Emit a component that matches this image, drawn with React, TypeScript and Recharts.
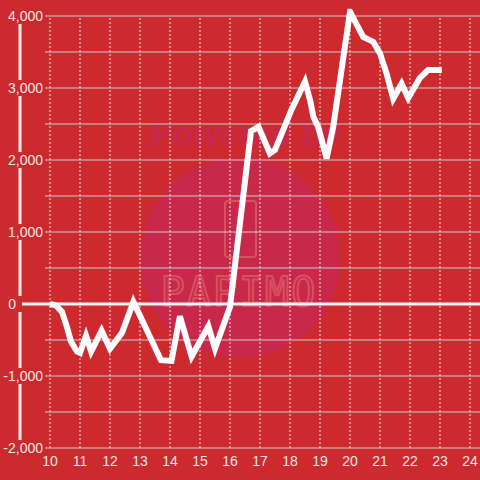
import { LineChart, Line, XAxis, YAxis, ReferenceLine } from 'recharts';

// hour of day -> running difference
const hours = [
  10.0, 10.2, 10.4, 10.55, 10.7, 10.9, 11.0, 11.2, 11.37, 11.72, 12.0, 12.4, 12.78,
  13.7, 14.05, 14.33, 14.72, 15.28, 15.5, 16.0, 16.7, 16.95, 17.33, 17.5, 18.05,
  18.5, 18.67, 18.78, 18.94, 19.22, 19.44, 20.0, 20.44, 20.78, 21.0, 21.22, 21.44,
  21.72, 21.94, 22.33, 22.6, 23.06,
];
const diff = [
  0, -20, -110, -300, -520, -660, -680, -440, -660, -370, -620, -400, 30,
  -780, -790, -170, -730, -310, -620, -40, 2400, 2460, 2090, 2140, 2700,
  3090, 2830, 2600, 2460, 2020, 2460, 4060, 3710, 3640, 3480, 3200, 2850,
  3060, 2860, 3140, 3250, 3250,
];

const xTicks = [10, 11, 12, 13, 14, 15, 16, 17, 18, 19, 20, 21, 22, 23, 24];
const yTicks = [-2000, -1500, -1000, -500, 0, 500, 1000, 1500, 2000, 2500, 3000, 3500, 4000];

const BG = '#cc2a2f';
const TEXT = '#f2e4e4';
const GRID = '#cdcdcd';
const FONT = '"Liberation Sans", Arial, sans-serif';

const data = hours.map((h, i) => ({ h, v: diff[i] }));

function YTick({ y, payload }: any) {
  const v = payload.value;
  if (v % 1000 !== 0) return null;
  const isZero = v === 0;
  return (
    <g>
      <rect x={isZero ? 6 : 1} y={y - 8} width={isZero ? 16 : 43} height={16} fill={BG} />
      <text
        x={isZero ? 16 : 43}
        y={y}
        dy="0.36em"
        textAnchor="end"
        fill={TEXT}
        fontSize={14}
        fontFamily={FONT}
      >
        {v.toLocaleString('en-US')}
      </text>
    </g>
  );
}

function Watermark() {
  return (
    <svg width={480} height={480} style={{ position: 'absolute', left: 0, top: 0 }}>
      <text x={150} y={146} fontSize={34} fontWeight="bold" fontStyle="italic" fill="#c8284a" fontFamily={FONT}>
        Powered by
      </text>
      <circle cx={240} cy={258} r={100} fill="#c8284a" />
      <rect x={225} y={201} width={31} height={56} rx={3} fill="none" stroke="#d7525f" strokeWidth={2} />
      <text x={239} y={306} textAnchor="middle" fontSize={40} fill="none" stroke="#d7525f" strokeWidth={2} fontFamily='"DejaVu Sans Mono", monospace' letterSpacing={2}>
        PAPIMO
      </text>
    </svg>
  );
}

export default function App() {
  return (
    <div style={{ position: 'absolute', left: 0, top: 0, width: 480, height: 480, background: BG }}>
      <Watermark />
      <div style={{ position: 'absolute', left: 0, top: 0 }}>
        <LineChart width={480} height={480} data={data} margin={{ top: 8.8, right: 0, bottom: 0, left: 0 }}>
          {yTicks.map((t) => (
            <ReferenceLine
              key={`h${t}`}
              segment={[{ x: 9.8333, y: t }, { x: 24.3333, y: t }]}
              stroke={GRID}
              strokeWidth={1}
            />
          ))}
          {xTicks.map((t) => (
            <ReferenceLine
              key={`v${t}`}
              segment={[{ x: t, y: -2000 }, { x: t, y: 4000 }]}
              stroke="#e6e6e6"
              strokeDasharray="2 2"
              strokeWidth={1}
            />
          ))}
          <ReferenceLine y={0} stroke="#f7f7f7" strokeWidth={3} />
          <XAxis
            dataKey="h"
            type="number"
            domain={[9, 24.3333]}
            ticks={xTicks}
            interval={0}
            height={32}
            axisLine={false}
            tickLine={false}
            tick={{ fill: TEXT, fontSize: 14, fontFamily: FONT }}
            allowDataOverflow
          />
          <YAxis
            type="number"
            domain={[-2000, 4100]}
            ticks={yTicks}
            interval={0}
            width={20}
            axisLine={{ stroke: '#f4f4f4', strokeWidth: 3 }}
            tickLine={false}
            tick={<YTick />}
            allowDataOverflow
          />
          <Line
            type="linear"
            dataKey="v"
            stroke="#ffffff"
            strokeWidth={6}
            dot={false}
            activeDot={false}
            isAnimationActive={false}
          />
        </LineChart>
      </div>
    </div>
  );
}
